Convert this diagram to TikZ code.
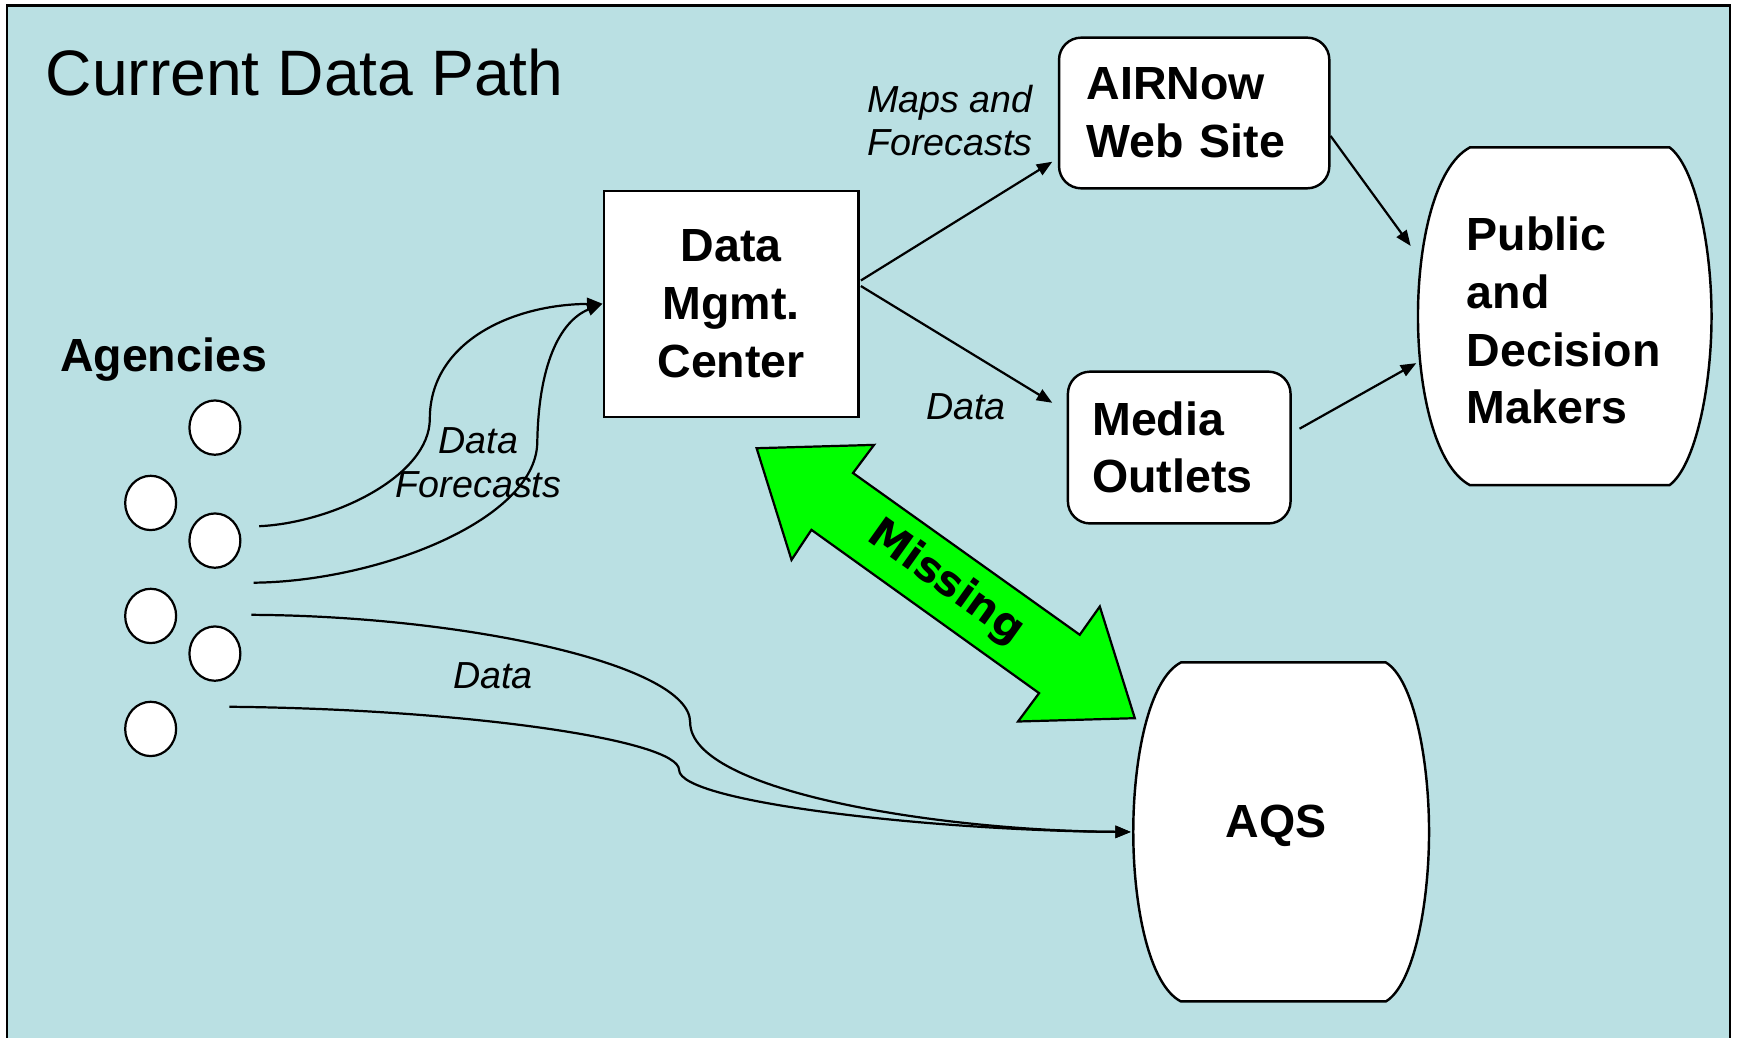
\documentclass[tikz,border=0pt]{standalone}
\usepackage{fontspec}
\setmainfont{Liberation Sans}
\newfontfamily\missfont{DejaVu Sans}
\usetikzlibrary{arrows.meta,calc,shapes.geometric}
\definecolor{bgblue}{RGB}{186,224,227}
\definecolor{arrgreen}{RGB}{0,255,0}
\begin{document}
\begin{tikzpicture}[x=1pt,y=-1pt,
  bigbold/.style={font=\fontsize{42}{52}\selectfont\bfseries},
  box/.style={bigbold, draw, line width=2.2pt, fill=white},
  rbox/.style={box, rounded corners=20pt, align=left},
  agency/.style={ellipse, draw, line width=2pt, fill=white, minimum width=46pt, minimum height=49pt, inner sep=0pt},
  conn/.style={line width=2pt, -{Triangle[length=14pt,width=11pt]}},
  lbl/.style={font=\fontsize{34}{39.5}\selectfont\itshape, inner sep=0pt},
  barrel/.style={draw, line width=2.2pt, fill=white}
]
\useasboundingbox (0,0) rectangle (1568,937);
\fill[white] (0,0) rectangle (1568,937);
\fill[bgblue] (6.3,5) rectangle (1561.5,945);
\draw[line width=2.2pt] (6.3,945) -- (6.3,5) -- (1561.5,5) -- (1561.5,945);

% title and labels
\node[anchor=base west, inner sep=0pt, font=\fontsize{58}{68}\selectfont] (title) at (41,86) {Current Data Path};
\node[bigbold, anchor=base west, inner sep=0pt] (agencies) at (54,335.4) {Agencies};

% agencies
\node[agency] (a1) at (194,386) {};
\node[agency] (a2) at (136,454) {};
\node[agency] (a3) at (194,488) {};
\node[agency] (a4) at (136,556) {};
\node[agency] (a5) at (194,590) {};
\node[agency] (a6) at (136,658) {};

% main boxes
\node[box, minimum width=230pt, minimum height=204pt, align=center] (dmc) at (660,274.2) {Data\\Mgmt.\\Center};
\node[rbox, minimum width=244pt, minimum height=136pt, text width=194pt, inner xsep=25pt] (air) at (1078,102) {AIRNow\\Web Site};
\node[rbox, minimum width=201pt, minimum height=137pt, text width=157pt, inner xsep=22pt] (media) at (1064.5,404) {Media\\Outlets};

% public barrel
\draw[barrel] (1327,133) -- (1507,133) .. controls (1530,150) and (1545,220) .. (1545,285.5) .. controls (1545,351) and (1530,421) .. (1507,438) -- (1327,438) .. controls (1295,421) and (1280,351) .. (1280,285.5) .. controls (1280,220) and (1295,150) .. (1327,133) -- cycle;
\node[bigbold, align=left, text width=177pt, inner xsep=44pt, minimum width=265pt, minimum height=305pt] (pub) at (1412.5,289.5) {Public\\and\\Decision\\Makers};

% AQS barrel
\draw[barrel] (1066,598) -- (1251,598) .. controls (1276,613) and (1290,685) .. (1290,751) .. controls (1290,817) and (1276,889) .. (1251,904) -- (1066,904) .. controls (1037,889) and (1023,817) .. (1023,751) .. controls (1023,685) and (1037,613) .. (1066,598) -- cycle;
\node[bigbold, minimum width=258pt, minimum height=306pt, text depth=19pt] (aqs) at (1152,751) {AQS};

% connector labels
\node[lbl, align=center] (lblmaps) at (857.5,108.7) {Maps and\\Forecasts};
\node[lbl, align=center] (lbldf) at (432,417.8) {Data\\Forecasts};
\node[lbl, anchor=base west] (lbldata1) at (836,378.5) {Data};
\node[lbl, anchor=base west] (lbldata2) at (409,621.6) {Data};

% connectors
\draw[conn] ($(dmc.east)+(1,-21)$) -- ($(air.west)+(-5,44)$);
\draw[conn] ($(dmc.east)+(1,-16)$) -- ($(media.west)+(-13,-40.4)$);
\draw[conn] ($(air.east)+(0,20.7)$) -- ($(pub.west)+(-6.4,-67.5)$);
\draw[conn] ($(media.east)+(7,-17)$) -- ($(pub.west)+(-1.3,38.3)$);

\draw[conn] ($(a3.east)+(16,-13)$) .. controls (300,472) and (388,430) .. (388,378) .. controls (388,310) and (460,275) .. (dmc.west);
\draw[conn] ($(a3.east)+(11,38)$) .. controls (340,525) and (483,470) .. (485,400) .. controls (486,330) and (505,290) .. (dmc.west);
\draw[conn] ($(a4.east)+(67,-1)$) .. controls (420,556) and (623,600) .. (623,652) .. controls (623,715) and (850,750) .. ($(aqs.west)+(-2,0)$);
\draw[conn] ($(a6.east)+(47,-20)$) .. controls (420,640) and (613,668) .. (613,695) .. controls (613,725) and (850,750) .. ($(aqs.west)+(-2,0)$);

% missing double arrow
\draw[line width=2pt, fill=arrgreen, line join=miter] (683,404.6) -- (789,401.6) -- (770,427) -- (974.7,573) -- (992.8,547.5) -- (1024.4,648.3) -- (919,651.3) -- (938,625.7) -- (732.5,478.3) -- (714.5,505.4) -- cycle;
\node[rotate=-35.5, font={\missfont\bfseries\fontsize{38}{40}\selectfont}] (miss) at (853.8,526) {Missing};
\end{tikzpicture}
\end{document}
